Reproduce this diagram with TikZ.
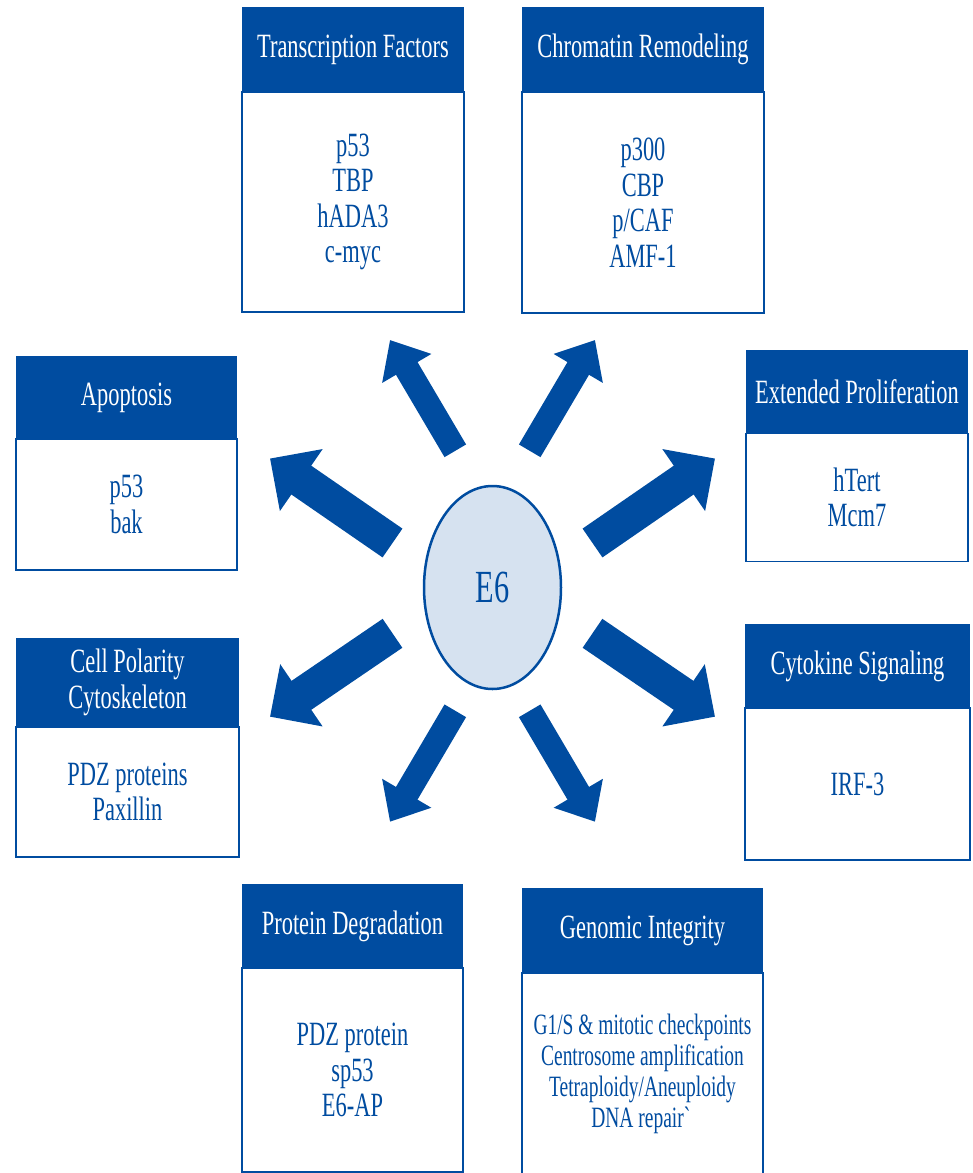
\documentclass[tikz,border=0pt]{standalone}
\usepackage{fontspec}
\setmainfont{Liberation Serif}[FakeStretch=0.66]
\usetikzlibrary{positioning,shapes.geometric,arrows.meta}
\definecolor{hpvblue}{RGB}{0,76,160}
\definecolor{hpvpale}{RGB}{214,226,240}
\newcommand{\bodyfont}{\fontsize{34}{35.5}\selectfont}
\tikzset{
	head/.style={fill=hpvblue, text=white, inner sep=0pt, outer sep=0pt,
		align=center, font=\fontsize{34}{36}\selectfont},
	body/.style={draw=hpvblue, line width=1.5pt, fill=white, text=hpvblue,
		inner sep=0pt, outer sep=0pt, align=center, font=\bodyfont},
	thin arrow/.style={hpvblue, line width=25pt,
		-{Triangle[length=33pt,width=55pt]}},
	wide arrow/.style={hpvblue, line width=35pt,
		-{Triangle[length=38pt,width=73pt]}},
}

\begin{document}
\begin{tikzpicture}[x=1pt,y=-1pt]
	\useasboundingbox (0,0) rectangle (973,1173);

	\node [ellipse, draw=hpvblue, line width=2.5pt, fill=hpvpale,
		minimum width=137pt, minimum height=203pt, text=hpvblue,
		font=\fontsize{46}{46}\selectfont] (e6) at (492.5,587.5) {E6};

	% top row
	\node [head, minimum width=222pt, minimum height=85pt] (tf) at (353,49.5) {Transcription Factors};
	\node [body, minimum width=222pt, minimum height=220pt, below=0pt of tf] (tf-list) {p53\\TBP\\hADA3\\c-myc};
	\node [head, minimum width=242pt, minimum height=85pt] (cr) at (643,49.5) {Chromatin Remodeling};
	\node [body, minimum width=242pt, minimum height=221pt, below=0pt of cr] (cr-list) {p300\\CBP\\p/CAF\\AMF-1};

	% left column
	\node [head, minimum width=221pt, minimum height=83pt] (apo) at (126.5,397.5) {Apoptosis};
	\node [body, minimum width=221pt, minimum height=131pt, below=0pt of apo] (apo-list) {p53\\bak};
	\node [head, minimum width=223pt, minimum height=89pt] (pol) at (127.5,682.5) {Cell Polarity\\Cytoskeleton};
	\node [body, minimum width=223pt, minimum height=130pt, below=0pt of pol] (pol-list) {PDZ proteins\\Paxillin};

	% right column
	\node [head, minimum width=222pt, minimum height=84pt] (ext) at (857,391.5) {Extended Proliferation};
	\node [body, minimum width=222pt, minimum height=128pt, below=0pt of ext] (ext-list) {hTert\\Mcm7};
	\node [head, minimum width=225pt, minimum height=84pt] (cyt) at (857.5,666) {Cytokine Signaling};
	\node [body, minimum width=225pt, minimum height=152pt, below=0pt of cyt] (cyt-list) {IRF-3};

	% bottom row
	\node [head, minimum width=221pt, minimum height=84pt] (deg) at (352.5,926) {Protein Degradation};
	\node [body, minimum width=221pt, minimum height=204pt, below=0pt of deg] (deg-list) {PDZ protein\\sp53\\E6-AP};
	\node [head, minimum width=241pt, minimum height=85pt] (gen) at (642.5,930.5) {Genomic Integrity};
	\node [body, minimum width=241pt, minimum height=201pt, below=0pt of gen,
		font=\fontsize{29.5}{31}\selectfont] (gen-list)
		{G1/S \& mitotic checkpoints\\Centrosome amplification\\Tetraploidy/Aneuploidy\\DNA repair\textasciigrave};

	\coordinate (tf-out) at (455.3,450.8);
	\coordinate (tf-in) at (390,340);
	\coordinate (cr-out) at (529.7,450.8);
	\coordinate (cr-in) at (595,340);
	\coordinate (apo-out) at (392.5,543);
	\coordinate (apo-in) at (270,458.5);
	\coordinate (ext-out) at (592.5,543);
	\coordinate (ext-in) at (715,458.5);
	\coordinate (pol-out) at (392.5,633.3);
	\coordinate (pol-in) at (270,716.7);
	\coordinate (cyt-out) at (592.5,633.3);
	\coordinate (cyt-in) at (715,716.7);
	\coordinate (deg-out) at (455.3,710.8);
	\coordinate (deg-in) at (390,821.7);
	\coordinate (gen-out) at (529.7,710.8);
	\coordinate (gen-in) at (595,821.7);

	\draw [thin arrow] (tf-out) -- (tf-in);
	\draw [thin arrow] (cr-out) -- (cr-in);
	\draw [wide arrow] (apo-out) -- (apo-in);
	\draw [wide arrow] (ext-out) -- (ext-in);
	\draw [wide arrow] (pol-out) -- (pol-in);
	\draw [wide arrow] (cyt-out) -- (cyt-in);
	\draw [thin arrow] (deg-out) -- (deg-in);
	\draw [thin arrow] (gen-out) -- (gen-in);
\end{tikzpicture}
\end{document}
